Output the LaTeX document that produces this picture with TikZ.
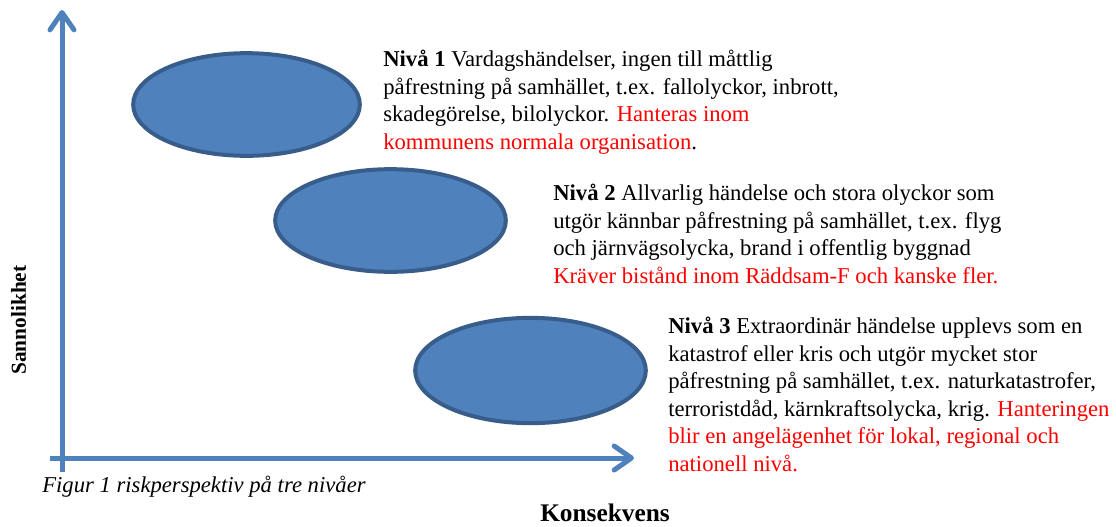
\documentclass[tikz,border=0pt]{standalone}
\usepackage{fontspec}
\setmainfont{Liberation Serif}
\usetikzlibrary{shapes.geometric,arrows.meta}
\definecolor{axisblue}{HTML}{4F81BD}
\definecolor{rimblue}{HTML}{385D8A}
\tikzset{
  blob/.style={ellipse, draw=rimblue, fill=axisblue, line width=3pt, inner sep=0pt},
  axis/.style={draw=axisblue, line width=3.75pt, -{Straight Barb[length=13pt,width=18pt,round]}},
  note/.style={anchor=north west, inner sep=0pt, align=left, font=\fontsize{17}{20.6}\selectfont},
  lbl/.style={inner sep=0pt, font=\fontsize{16}{18}\selectfont\bfseries},
}
\begin{document}
\begin{tikzpicture}[x=0.75pt,y=-0.75pt]
\useasboundingbox (0,0) rectangle (1116,526);
\coordinate (ybot) at (62,472);
\coordinate (ytop) at (62,10);
\coordinate (xleft) at (50,458);
\coordinate (xright) at (634,458);
\draw[axis] (ybot) -- (ytop);
\draw[axis] (xleft) -- (xright);
\node[blob, minimum width=170pt, minimum height=77pt] (niva1) at (246.5,104.5){};
\node[blob, minimum width=173pt, minimum height=77pt] (niva2) at (390.5,220.5){};
\node[blob, minimum width=173pt, minimum height=79pt] (niva3) at (530.5,370.5){};
\node[note] (txt1) at (383,50){\textbf{Nivå 1} Vardagshändelser, ingen till måttlig\\
påfrestning på samhället, t.ex. fallolyckor, inbrott,\\
skadegörelse, bilolyckor. \textcolor{red}{Hanteras inom}\\
\textcolor{red}{kommunens normala organisation}.};
\node[note] (txt2) at (553,184){\textbf{Nivå 2} Allvarlig händelse och stora olyckor som\\
utgör kännbar påfrestning på samhället, t.ex. flyg\\
och järnvägsolycka, brand i offentlig byggnad\\
\textcolor{red}{Kräver bistånd inom Räddsam-F och kanske fler.}};
\node[note] (txt3) at (668,317){\textbf{Nivå 3} Extraordinär händelse upplevs som en\\
katastrof eller kris och utgör mycket stor\\
påfrestning på samhället, t.ex. naturkatastrofer,\\
terroristdåd, kärnkraftsolycka, krig. \textcolor{red}{Hanteringen}\\
\textcolor{red}{blir en angelägenhet för lokal, regional och}\\
\textcolor{red}{nationell nivå.}};
\node[anchor=base west, inner sep=0pt, font=\fontsize{17}{18}\selectfont\itshape] (caption) at (42,492){Figur 1 riskperspektiv på tre nivåer};
\node[lbl, anchor=base, font=\fontsize{19}{20}\selectfont\bfseries] (xlabel) at (605,521){Konsekvens};
\node[lbl, anchor=base, rotate=90] (ylabel) at (26,320){Sannolikhet};
\end{tikzpicture}
\end{document}
